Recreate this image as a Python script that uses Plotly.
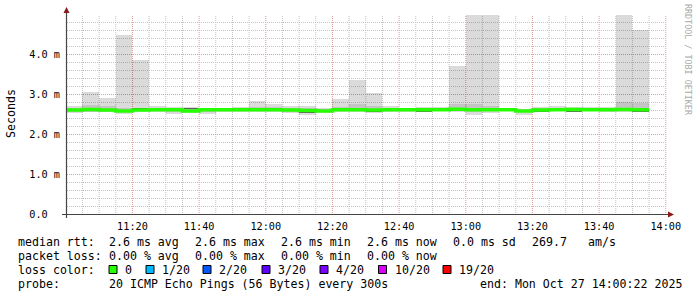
import plotly.graph_objects as go
import pandas as pd

# ---------------- data (ms) ----------------
slot_start = pd.date_range("2025-10-27 11:00:00", periods=35, freq="5min")
rtt_max = [2.70, 3.05, 2.92, 4.48, 3.85, 2.72, 2.68, 2.68, 2.67, 2.66, 2.69, 2.83,
           2.75, 2.72, 2.72, 2.67, 2.88, 3.35, 3.04, 2.72, 2.66, 2.68, 2.69, 3.71,
           5.30, 5.30, 2.67, 2.64, 2.68, 2.72, 2.68, 2.68, 2.68, 5.30, 4.61]
rtt_hi = [2.66, 2.74, 2.72, 2.66, 2.67, 2.66, 2.64, 2.65, 2.64, 2.64, 2.66, 2.68,
          2.68, 2.67, 2.66, 2.64, 2.68, 2.76, 2.70, 2.67, 2.64, 2.65, 2.66, 2.75,
          2.75, 2.72, 2.65, 2.62, 2.65, 2.67, 2.65, 2.65, 2.65, 2.82, 2.78]
rtt_lo = [2.56, 2.57, 2.57, 2.56, 2.58, 2.58, 2.55, 2.57, 2.55, 2.59, 2.58, 2.58,
          2.58, 2.57, 2.54, 2.56, 2.59, 2.59, 2.56, 2.58, 2.59, 2.58, 2.59, 2.59,
          2.56, 2.58, 2.59, 2.55, 2.59, 2.59, 2.58, 2.59, 2.58, 2.58, 2.58]
rtt_min = [2.53, 2.55, 2.55, 2.52, 2.55, 2.56, 2.50, 2.54, 2.51, 2.57, 2.56, 2.56,
           2.56, 2.54, 2.48, 2.53, 2.57, 2.57, 2.53, 2.55, 2.57, 2.57, 2.58, 2.57,
           2.49, 2.54, 2.58, 2.49, 2.57, 2.58, 2.57, 2.58, 2.57, 2.56, 2.56]
rtt_dense = [2.61, 2.62, 2.61, 2.59, 2.65, 2.62, 2.62, 2.645, 2.62, 2.62, 2.62, 2.645,
             2.62, 2.61, 2.56, 2.59, 2.62, 2.62, 2.565, 2.65, 2.62, 2.575, 2.62, 2.63,
             2.645, 2.62, 2.62, 2.585, 2.565, 2.62, 2.57, 2.62, 2.62, 2.65, 2.57]
rtt_median = [2.61, 2.625, 2.61, 2.59, 2.61, 2.62, 2.62, 2.59, 2.62, 2.62, 2.62, 2.62,
              2.62, 2.61, 2.60, 2.59, 2.62, 2.62, 2.61, 2.62, 2.62, 2.62, 2.62, 2.63,
              2.62, 2.62, 2.62, 2.585, 2.615, 2.62, 2.625, 2.62, 2.62, 2.625, 2.62]

x_ticks = ["11:20", "11:40", "12:00", "12:20", "12:40", "13:00", "13:20", "13:40", "14:00"]
y_ticks = [0, 1, 2, 3, 4]
y_ticktext = ["0.0\u00a0\u00a0", "1.0 m", "2.0 m", "3.0 m", "4.0 m"]

legend_lines = [
    ["median rtt:", "2.6 ms avg", "2.6 ms max", "2.6 ms min", "2.6 ms now", "0.0 ms sd", "269.7", "am/s"],
    ["packet loss:", "0.00 % avg", "0.00 % max", "0.00 % min", "0.00 % now"],
]
loss_labels = ["0", "1/20", "2/20", "3/20", "4/20", "10/20", "19/20"]
loss_colors = ["#26ff00", "#00b8ff", "#0059ff", "#5e00ff", "#7e00ff", "#dd00ff", "#ff0000"]
probe_text = "20 ICMP Echo Pings (56 Bytes) every 300s"
end_text = "end: Mon Oct 27 14:00:22 2025"

# ---------------- layout geometry ----------------
W, H = 697, 297
L, R, T, B = 67, 30, 15, 82
PW, PH = W - L - R, H - T - B
Y_SHIFT = 0.0125  # half a pixel


def px(x):
    return (x - L) / PW


def py(y):
    return (T + PH - y) / PH


MONO = "DejaVu Sans Mono"
half = pd.Timedelta(seconds=150)
centers = slot_start + half
width_ms = [300000] * len(slot_start)

fig = go.Figure()


def band(lo, hi, color):
    fig.add_trace(go.Bar(
        x=centers, y=[h - l for h, l in zip(hi, lo)], base=lo, width=width_ms,
        marker=dict(color=color, line=dict(width=0)), hoverinfo="skip", showlegend=False))


# translucent smoke so that the grid shows through, as in rrdtool
band(rtt_min, rtt_max, "rgba(0,0,0,0.14)")
band(rtt_lo, rtt_hi, "rgba(0,0,0,0.10)")
band([d - 0.015 for d in rtt_dense], [d + 0.015 for d in rtt_dense], "rgba(60,60,60,0.75)")

step_x = list(slot_start) + [slot_start[-1] + pd.Timedelta(minutes=5)]
step_y = rtt_median + [rtt_median[-1]]
fig.add_trace(go.Scatter(x=step_x, y=step_y, mode="lines",
                         line=dict(shape="hv", color="#26ff00", width=3.5),
                         hoverinfo="skip", showlegend=False))

tick_dates = [pd.Timestamp("2025-10-27 " + t) for t in x_ticks]

MAJOR = "#e39a9a"
MINOR = "#c4c4c4"
DASH = "1px,1px"

fig.update_layout(
    width=W, height=H, margin=dict(l=L, r=R, t=T, b=B, pad=0),
    paper_bgcolor="white", plot_bgcolor="white",
    barmode="overlay", bargap=0, showlegend=False,
    font=dict(family=MONO, color="black"),
    xaxis=dict(
        type="date",
        range=["2025-10-27 11:00:22", "2025-10-27 14:00:22"],
        tickvals=tick_dates, ticktext=x_ticks,
        tickfont=dict(family=MONO, size=10.2, color="black"),
        showgrid=False, ticks="", showline=False, zeroline=False, fixedrange=True,
        ticklabelstandoff=4,
    ),
    yaxis=dict(
        range=[-Y_SHIFT, 5 - Y_SHIFT - 0.001],
        tickvals=y_ticks, ticktext=y_ticktext,
        tickfont=dict(family=MONO, size=10.2, color="black"),
        showgrid=False, ticks="", showline=False, zeroline=False, fixedrange=True,
        ticklabelstandoff=6,
    ),
)

shapes = []
# grid (derived from the tick lists / step sizes)
minor_x = [t for t in pd.date_range("2025-10-27 11:05", "2025-10-27 14:00", freq="5min")
           if t not in tick_dates]
for t in minor_x:
    shapes.append(dict(type="line", xref="x", yref="paper", x0=t, x1=t, y0=0, y1=1,
                       line=dict(color=MINOR, width=1, dash=DASH), layer="below"))
for t in tick_dates:
    shapes.append(dict(type="line", xref="x", yref="paper", x0=t, x1=t, y0=0, y1=1,
                       line=dict(color=MAJOR, width=1, dash=DASH), layer="below"))
for k in range(1, 25):
    v = round(k * 0.2, 1)
    is_major = abs(v - round(v)) < 1e-9
    shapes.append(dict(type="line", xref="paper", yref="y", x0=0, x1=1, y0=v, y1=v,
                       line=dict(color=MAJOR if is_major else MINOR, width=1, dash=DASH),
                       layer="below"))

axis_col = "#444444"
arrow_col = "#8b1a1a"
# axes
shapes.append(dict(type="line", xref="paper", yref="paper", x0=px(62), x1=px(669),
                   y0=py(214.5), y1=py(214.5), line=dict(color=axis_col, width=1), layer="above"))
shapes.append(dict(type="line", xref="paper", yref="paper", x0=px(66.5), x1=px(66.5),
                   y0=py(218), y1=py(11), line=dict(color=axis_col, width=1.2), layer="above"))
# arrows
shapes.append(dict(type="path", xref="paper", yref="paper", layer="above",
                   path=f"M {px(668)} {py(211.5)} L {px(674)} {py(214.5)} L {px(668)} {py(217.5)} Z",
                   fillcolor=arrow_col, line=dict(color=arrow_col, width=0)))
shapes.append(dict(type="path", xref="paper", yref="paper", layer="above",
                   path=f"M {px(63.5)} {py(13)} L {px(66.5)} {py(7)} L {px(69.5)} {py(13)} Z",
                   fillcolor=arrow_col, line=dict(color=arrow_col, width=0)))

ann = []


def text(x, y, s, size=11.6, color="black", **kw):
    ann.append(dict(x=px(x), y=py(y), xref="paper", yref="paper", text=s.replace(" ", "\u00a0"),
                    showarrow=False, xanchor=kw.pop("xanchor", "left"), yanchor="middle",
                    font=dict(family=MONO, size=size, color=color), **kw))


# legend line 1 and 2
line1_x = [16, 107, 193, 279, 365, 451, 530, 586]
line2_x = [16, 107, 193, 279, 365]
for s, x in zip(legend_lines[0], line1_x):
    text(x, 241.5, s)
for s, x in zip(legend_lines[1], line2_x):
    text(x, 255.5, s)

# loss colour line
text(16, 269.5, "loss color:")
box_x = [109, 146, 203, 262, 320, 378.5, 443]
for s, c, bx in zip(loss_labels, loss_colors, box_x):
    shapes.append(dict(type="rect", xref="paper", yref="paper",
                       x0=px(bx), x1=px(bx + 8), y0=py(273.5), y1=py(265.5),
                       fillcolor=c, line=dict(color="black", width=1), layer="above"))
    text(bx + 14, 269.5, s)

# probe line
text(16, 283.5, "probe:")
text(107, 283.5, probe_text)
text(478, 283.5, end_text)

# y title
ann.append(dict(x=px(11), y=py(114), xref="paper", yref="paper", text="Seconds",
                showarrow=False, textangle=-90, xanchor="center", yanchor="middle",
                font=dict(family=MONO, size=11.6, color="black")))
# watermark
ann.append(dict(x=px(688), y=py(60), xref="paper", yref="paper", text="RRDTOOL / TOBI OETIKER",
                showarrow=False, textangle=90, xanchor="center", yanchor="middle",
                font=dict(family=MONO, size=8.4, color="#aaaaaa")))

fig.update_layout(shapes=shapes, annotations=ann)
fig.write_html("out.html")
